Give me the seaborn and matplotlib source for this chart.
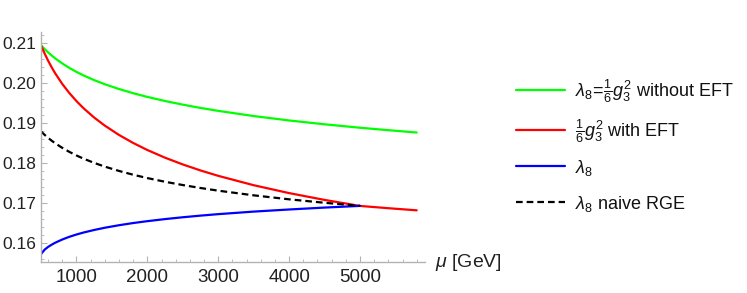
import matplotlib
matplotlib.use("Agg")
import matplotlib.pyplot as plt
import seaborn as sns
from matplotlib.ticker import MultipleLocator

# ---- data ----
mu_full = [500, 550, 600, 650, 700, 800, 900, 1000, 1100, 1250, 1400, 1600, 1800, 2000,
           2250, 2500, 2750, 3000, 3500, 4000, 4500, 5000, 5400, 5800]
mu_low = [500, 550, 600, 650, 700, 800, 900, 1000, 1100, 1250, 1400, 1600, 1800, 2000,
          2250, 2500, 2750, 3000, 3500, 4000, 4500, 5000]

green_no_eft = [0.2095, 0.20856, 0.20771, 0.20693, 0.20621, 0.20493, 0.20381, 0.20282,
                0.20193, 0.20075, 0.19972, 0.19852, 0.19747, 0.19654, 0.19551, 0.19460,
                0.19378, 0.19304, 0.19174, 0.19063, 0.18967, 0.18881, 0.18819, 0.18761]
red_with_eft = [0.2095, 0.20746, 0.20563, 0.20397, 0.20246, 0.19979, 0.19750, 0.19549,
                0.19370, 0.19136, 0.18934, 0.18700, 0.18499, 0.18322, 0.18129, 0.17960,
                0.17809, 0.17674, 0.17439, 0.17241, 0.17070, 0.16919, 0.16862, 0.16809]
blue_lambda8 = [0.1571, 0.15821, 0.15891, 0.15947, 0.15996, 0.16077, 0.16145, 0.16202,
                0.16252, 0.16316, 0.16372, 0.16435, 0.16490, 0.16537, 0.16589, 0.16635,
                0.16676, 0.16713, 0.16777, 0.16830, 0.16878, 0.16920]
black_naive = [0.1879, 0.18704, 0.18627, 0.18556, 0.18491, 0.18376, 0.18275, 0.18185,
               0.18105, 0.17999, 0.17905, 0.17797, 0.17702, 0.17618, 0.17525, 0.17443,
               0.17369, 0.17302, 0.17185, 0.17085, 0.16998, 0.16920]

labels = [r"$\lambda_8\!=\!\frac{1}{6}g_3^2$ without EFT",
          r"$\frac{1}{6}g_3^2$ with EFT",
          r"$\lambda_8$",
          r"$\lambda_8$ naive RGE"]
x_ticks = [1000, 2000, 3000, 4000, 5000]
y_ticks = [0.16, 0.17, 0.18, 0.19, 0.20, 0.21]

# ---- style ----
sns.set_style("white")
plt.rcParams["font.family"] = ["Liberation Sans", "DejaVu Sans"]
plt.rcParams["mathtext.fontset"] = "custom"
plt.rcParams["mathtext.rm"] = "Liberation Sans"
plt.rcParams["mathtext.it"] = "Liberation Sans:italic"
plt.rcParams["mathtext.bf"] = "Liberation Sans:bold"

fig = plt.figure(figsize=(7.47, 2.93), dpi=100)
ax = fig.add_axes([0.0549, 0.1041, 0.5134, 0.7877])

lw = 1.6
sns.lineplot(x=mu_full, y=green_no_eft, color=(0, 1, 0), lw=lw, ax=ax, label=labels[0])
sns.lineplot(x=mu_full, y=red_with_eft, color=(1, 0, 0), lw=lw, ax=ax, label=labels[1])
sns.lineplot(x=mu_low, y=blue_lambda8, color=(0, 0, 1), lw=lw, ax=ax, label=labels[2])
sns.lineplot(x=mu_low, y=black_naive, color="black", lw=lw, ax=ax, label=labels[3],
             linestyle=(0, (3.0, 1.8)))

ax.set_xlim(500, 5910)
ax.set_ylim(0.1550, 0.2129)
ax.set_xticks(x_ticks)
ax.set_yticks(y_ticks)
ax.set_yticklabels([f"{v:.2f}" for v in y_ticks])
ax.xaxis.set_minor_locator(MultipleLocator(200))
ax.yaxis.set_minor_locator(MultipleLocator(0.002))

axis_col = "#b3b3b3"
for s in ["top", "right"]:
    ax.spines[s].set_visible(False)
for s in ["left", "bottom"]:
    ax.spines[s].set_color(axis_col)
    ax.spines[s].set_linewidth(1.0)
ax.tick_params(which="major", direction="in", length=4, width=0.8, color=axis_col,
               labelcolor="#222222")
ax.tick_params(which="minor", direction="in", length=2.2, width=0.6, color=axis_col)
ax.tick_params(axis="x", which="both", bottom=True)
ax.tick_params(axis="x", which="major", labelsize=13.5, pad=5)
ax.tick_params(axis="y", which="both", left=True)
ax.tick_params(axis="y", which="major", labelsize=12.5, pad=3.5)
ax.set_xlabel("")
ax.set_ylabel("")
ax.text(1.027, 0.0, r"$\mu$ [GeV]", transform=ax.transAxes, ha="left", va="center",
        fontsize=14, color="#222222")

# legend: one entry per row, placed at the reference row positions
handles, labs = ax.get_legend_handles_labels()
ax.get_legend().remove()
row_y = [91, 131, 167.5, 203.5]
for h, lab, y in zip(handles, labs, row_y):
    lg = fig.legend([h], [lab], loc="center left",
                    bbox_to_anchor=(516 / 747, 1 - y / 293),
                    frameon=False, fontsize=13, handlelength=2.7, handletextpad=0.55,
                    borderpad=0, borderaxespad=0)
    for t in lg.get_texts():
        t.set_color("#111111")

fig.savefig("out.png", dpi=100)
